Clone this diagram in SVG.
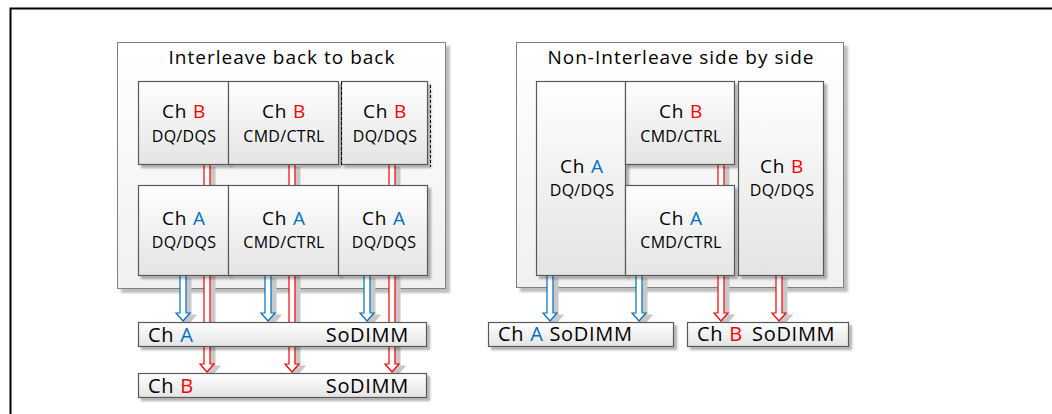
<svg xmlns="http://www.w3.org/2000/svg" width="1052" height="414" viewBox="0 0 1052 414">
<defs>
<linearGradient id="gBox" x1="0" y1="0" x2="0" y2="1"><stop offset="0" stop-color="#ffffff"/><stop offset="1" stop-color="#e4e4e4"/></linearGradient>
<linearGradient id="gPanel" x1="0" y1="0" x2="0" y2="1"><stop offset="0" stop-color="#ffffff"/><stop offset="1" stop-color="#f0f0f0"/></linearGradient>
<linearGradient id="gBar" x1="0" y1="0" x2="0" y2="1"><stop offset="0" stop-color="#ffffff"/><stop offset="1" stop-color="#e4e4e4"/></linearGradient>
<filter id="sh" x="-10%" y="-10%" width="130%" height="130%"><feDropShadow dx="3" dy="3" stdDeviation="1" flood-color="#000" flood-opacity="0.3"/></filter>
<filter id="shp" x="-5%" y="-5%" width="110%" height="110%"><feDropShadow dx="4" dy="4" stdDeviation="1" flood-color="#000" flood-opacity="0.25"/></filter>
</defs>
<style>
text{font-family:"Open Sans","Liberation Sans",sans-serif;fill:#000}
.title{font-size:19px;letter-spacing:1px;text-anchor:middle}
.ch{font-size:19px;letter-spacing:0.8px;text-anchor:middle}
.sub{font-size:16px;letter-spacing:0.3px;text-anchor:middle}
.bar{font-size:20px;letter-spacing:0.7px}
.A{fill:#0070C0}
.B{fill:#FF0000}
.panel{fill:url(#gPanel);stroke:#7f7f7f;stroke-width:1;filter:url(#shp)}
.box{fill:url(#gBox);stroke:#595959;stroke-width:1.2;filter:url(#sh)}
.sbar{fill:url(#gBar);stroke:#595959;stroke-width:1.2;filter:url(#sh)}
.arA{fill:#fff;stroke:#0070C0;stroke-width:1.2}
.arB{fill:#fff;stroke:#FF0000;stroke-width:1.2}
.arS{fill:#c8c8c8;stroke:#c8c8c8;stroke-width:3}
</style>
<rect x="10.5" y="8.5" width="1100" height="500" fill="#fff" stroke="#000" stroke-width="2"/>
<g id="panel-interleave"><rect class="panel" x="117.5" y="42.5" width="328" height="246"/><text class="title" x="282" y="64">Interleave back to back</text></g>
<g id="panel-noninterleave"><rect class="panel" x="516.5" y="42.5" width="327" height="245"/><text class="title" x="681" y="64">Non-Interleave side by side</text></g>
<g id="connectors">
<g transform="translate(4,3)">
<path class="arS" d="M180,275V313H176L183,321L190,313H186V275"/>
<path class="arS" d="M265,275V313H261L268,321L275,313H271V275"/>
<path class="arS" d="M364,275V313H360L367,321L374,313H370V275"/>
<path class="arS" d="M204,164V364H200L207,372L214,364H210V164"/>
<path class="arS" d="M289,164V364H285L292,372L299,364H295V164"/>
<path class="arS" d="M389,164V364H385L392,372L399,364H395V164"/>
<path class="arS" d="M547,275V313H543L550,321L557,313H553V275"/>
<path class="arS" d="M636,275V313H632L639,321L646,313H642V275"/>
<path class="arS" d="M718,164V313H714L721,321L728,313H724V164"/>
<path class="arS" d="M776,275V313H772L779,321L786,313H782V275"/>
</g>
<path class="arA" d="M180,275V313H176L183,321L190,313H186V275"/>
<path class="arA" d="M265,275V313H261L268,321L275,313H271V275"/>
<path class="arA" d="M364,275V313H360L367,321L374,313H370V275"/>
<path class="arB" d="M204,164V364H200L207,372L214,364H210V164"/>
<path class="arB" d="M289,164V364H285L292,372L299,364H295V164"/>
<path class="arB" d="M389,164V364H385L392,372L399,364H395V164"/>
<path class="arA" d="M547,275V313H543L550,321L557,313H553V275"/>
<path class="arA" d="M636,275V313H632L639,321L646,313H642V275"/>
<path class="arB" d="M718,164V313H714L721,321L728,313H724V164"/>
<path class="arB" d="M776,275V313H772L779,321L786,313H782V275"/>
</g>
<g id="ib-chb-dq1"><rect class="box" x="138.5" y="81.5" width="90" height="83"/><text class="ch" x="184" y="118">Ch <tspan class="B">B</tspan></text><text class="sub" x="184" y="142">DQ/DQS</text></g>
<g id="ib-chb-cmd"><rect class="box" x="228.5" y="81.5" width="110" height="83"/><text class="ch" x="284" y="118">Ch <tspan class="B">B</tspan></text><text class="sub" x="284" y="142">CMD/CTRL</text></g>
<g id="ib-chb-dq2"><rect class="box" x="341.5" y="81.5" width="86" height="83"/><line x1="341.5" y1="82" x2="341.5" y2="165" stroke="#000" stroke-dasharray="3,2" stroke-width="1"/><line x1="430.5" y1="85" x2="430.5" y2="167" stroke="#000" stroke-dasharray="3,2" stroke-width="1"/><text class="ch" x="385" y="118">Ch <tspan class="B">B</tspan></text><text class="sub" x="385" y="142">DQ/DQS</text></g>
<g id="ib-cha-dq1"><rect class="box" x="138.5" y="185.5" width="90" height="90"/><text class="ch" x="184" y="225">Ch <tspan class="A">A</tspan></text><text class="sub" x="184" y="248">DQ/DQS</text></g>
<g id="ib-cha-cmd"><rect class="box" x="228.5" y="185.5" width="110" height="90"/><text class="ch" x="284" y="225">Ch <tspan class="A">A</tspan></text><text class="sub" x="284" y="248">CMD/CTRL</text></g>
<g id="ib-cha-dq2"><rect class="box" x="338.5" y="185.5" width="89" height="90"/><text class="ch" x="384" y="225">Ch <tspan class="A">A</tspan></text><text class="sub" x="384" y="248">DQ/DQS</text></g>
<g id="ib-sodimm-a"><rect class="sbar" x="138.5" y="322.5" width="288" height="24"/><text class="bar" x="148" y="342">Ch <tspan class="A">A</tspan></text><text class="bar" x="409" y="342" text-anchor="end">SoDIMM</text></g>
<g id="ib-sodimm-b"><rect class="sbar" x="138.5" y="373.5" width="288" height="24"/><text class="bar" x="148" y="393">Ch <tspan class="B">B</tspan></text><text class="bar" x="409" y="393" text-anchor="end">SoDIMM</text></g>
<g id="ni-cha-dq"><rect class="box" x="536.5" y="81.5" width="89" height="194"/><text class="ch" x="582" y="173">Ch <tspan class="A">A</tspan></text><text class="sub" x="582" y="196">DQ/DQS</text></g>
<g id="ni-chb-cmd"><rect class="box" x="625.5" y="81.5" width="109" height="83"/><text class="ch" x="681" y="118">Ch <tspan class="B">B</tspan></text><text class="sub" x="681" y="142">CMD/CTRL</text></g>
<g id="ni-cha-cmd"><rect class="box" x="625.5" y="185.5" width="109" height="90"/><text class="ch" x="681" y="225">Ch <tspan class="A">A</tspan></text><text class="sub" x="681" y="248">CMD/CTRL</text></g>
<g id="ni-chb-dq"><rect class="box" x="738.5" y="81.5" width="85" height="194"/><text class="ch" x="782" y="173">Ch <tspan class="B">B</tspan></text><text class="sub" x="782" y="196">DQ/DQS</text></g>
<g id="ni-sodimm-a"><rect class="sbar" x="488.5" y="322.5" width="185" height="24"/><text class="bar" x="498" y="341">Ch <tspan class="A">A</tspan> SoDIMM</text></g>
<g id="ni-sodimm-b"><rect class="sbar" x="687.5" y="322.5" width="161" height="24"/><text class="bar" x="697" y="341">Ch <tspan class="B">B</tspan><tspan x="752">SoDIMM</tspan></text></g>
</svg>
